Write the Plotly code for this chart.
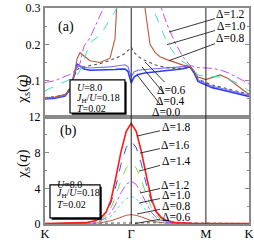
import plotly.graph_objects as go

# ---------------- data ----------------
tick_pos = [0.0, 1.3333, 2.4880, 3.1547]
tick_text = ["K", "Γ", "M", "K"]

# panel (a) path positions
qa = [0.000, 0.155, 0.309, 0.387, 0.448, 0.495, 0.541, 0.603, 0.696, 0.850,
      1.005, 1.082, 1.160, 1.237, 1.283, 1.333, 1.376, 1.438, 1.546, 1.624,
      1.701, 1.778, 1.887, 2.010, 2.134, 2.242, 2.304, 2.366, 2.488, 2.586,
      2.706, 2.830, 2.984, 3.155]

a_d00 = [0.050, 0.052, 0.058, 0.075, 0.115, 0.146, 0.140, 0.132, 0.129, 0.129,
         0.130, 0.131, 0.132, 0.132, 0.126, 0.094, 0.110, 0.117, 0.121, 0.123,
         0.125, 0.127, 0.128, 0.130, 0.133, 0.138, 0.122, 0.098, 0.088, 0.081,
         0.076, 0.071, 0.064, 0.057]
a_d04 = [0.052, 0.054, 0.060, 0.078, 0.112, 0.140, 0.141, 0.137, 0.135, 0.136,
         0.138, 0.140, 0.142, 0.144, 0.139, 0.110, 0.124, 0.129, 0.131, 0.132,
         0.133, 0.133, 0.134, 0.135, 0.137, 0.140, 0.128, 0.103, 0.092, 0.085,
         0.080, 0.075, 0.068, 0.060]
a_d06 = [0.054, 0.056, 0.062, 0.080, 0.110, 0.130, 0.136, 0.138, 0.141, 0.147,
         0.156, 0.161, 0.167, 0.175, 0.183, 0.192, 0.178, 0.167, 0.156, 0.149,
         0.144, 0.140, 0.136, 0.134, 0.134, 0.138, 0.127, 0.104, 0.094, 0.088,
         0.083, 0.078, 0.071, 0.063]
a_d08 = [0.053, 0.055, 0.062, 0.075, 0.110, 0.160, 0.177, 0.168, 0.155, 0.150,
         0.162, 0.215, 0.350, 0.600, 0.800, 1.050, 0.850, 0.550, 0.300, 0.200,
         0.178, 0.166, 0.158, 0.150, 0.143, 0.140, 0.125, 0.110, 0.103, 0.108,
         0.116, 0.106, 0.085, 0.062]
a_d10 = [0.072, 0.086, 0.097, 0.104, 0.110, 0.115, 0.128, 0.160, 0.205, 0.225,
         0.268, 0.290, 0.320, 0.600, 1.500, 3.100, 1.500, 0.700, 0.400, 0.320,
         0.285, 0.250, 0.205, 0.172, 0.152, 0.140, 0.128, 0.116, 0.112, 0.111,
         0.110, 0.106, 0.092, 0.072]
a_d12 = [0.095, 0.100, 0.112, 0.117, 0.125, 0.133, 0.148, 0.195, 0.218, 0.275,
         0.340, 0.420, 0.600, 1.200, 2.400, 4.800, 2.400, 1.200, 0.600, 0.450,
         0.370, 0.310, 0.255, 0.205, 0.165, 0.142, 0.138, 0.136, 0.135, 0.134,
         0.130, 0.122, 0.108, 0.092]

# panel (b) path positions
qb = [0.000, 0.402, 0.634, 0.789, 0.866, 0.944, 1.021, 1.098, 1.175, 1.256,
      1.333, 1.410, 1.488, 1.565, 1.643, 1.720, 1.797, 1.875, 2.030, 2.262,
      2.488, 3.155]

b_d06 = [0.05, 0.08, 0.13, 0.14, 0.145, 0.15, 0.155, 0.16, 0.17, 0.18, 0.19,
         0.17, 0.16, 0.15, 0.14, 0.14, 0.14, 0.14, 0.13, 0.14, 0.09, 0.06]
b_d08 = [0.02, 0.03, 0.06, 0.10, 0.15, 0.23, 0.37, 0.56, 0.78, 0.97, 1.05,
         0.97, 0.80, 0.58, 0.38, 0.24, 0.15, 0.10, 0.06, 0.04, 0.03, 0.02]
b_d10 = [0.02, 0.04, 0.08, 0.17, 0.28, 0.50, 0.88, 1.50, 2.25, 2.85, 3.10,
         2.85, 2.25, 1.55, 0.90, 0.50, 0.28, 0.17, 0.08, 0.04, 0.03, 0.02]
b_d12 = [0.03, 0.05, 0.09, 0.22, 0.38, 0.70, 1.30, 2.30, 3.50, 4.45, 4.80,
         4.45, 3.50, 2.35, 1.35, 0.72, 0.38, 0.22, 0.09, 0.05, 0.04, 0.03]
b_d14 = [0.03, 0.06, 0.11, 0.28, 0.50, 0.95, 1.80, 3.20, 4.90, 6.30, 6.80,
         6.30, 5.00, 3.30, 1.90, 1.00, 0.50, 0.28, 0.11, 0.06, 0.04, 0.03]
b_d16 = [0.03, 0.07, 0.13, 0.35, 0.65, 1.20, 2.40, 4.30, 6.70, 8.60, 9.30,
         8.60, 6.80, 4.50, 2.60, 1.30, 0.65, 0.35, 0.13, 0.07, 0.05, 0.03]
b_d18 = [0.04, 0.08, 0.15, 0.40, 0.75, 1.30, 2.70, 5.30, 8.10, 10.4, 11.3,
         10.4, 8.20, 5.50, 2.90, 1.40, 0.75, 0.40, 0.15, 0.08, 0.06, 0.04]

FONT = "Liberation Serif"

a_series = [("Δ=0.0", a_d00, "#2a3cff", "solid", 1.6),
            ("Δ=0.4", a_d04, "#7d70ff", "solid", 1.1),
            ("Δ=0.6", a_d06, "#555555", "dot", 1.1),
            ("Δ=0.8", a_d08, "#b85a3c", "solid", 1.1),
            ("Δ=1.0", a_d10, "#40e0c8", "dash", 1.0),
            ("Δ=1.2", a_d12, "#c050ff", "dashdot", 1.0)]
b_series = [("Δ=0.6", b_d06, "#555555", "dot", 1.0),
            ("Δ=0.8", b_d08, "#b85a3c", "solid", 1.0),
            ("Δ=1.0", b_d10, "#40e0c8", "dot", 1.0),
            ("Δ=1.2", b_d12, "#c050ff", "dashdot", 1.0),
            ("Δ=1.4", b_d14, "#70e040", "dash", 1.0),
            ("Δ=1.6", b_d16, "#3050ff", "dash", 1.0),
            ("Δ=1.8", b_d18, "#ff1a1a", "solid", 1.6)]

fig = go.Figure()
for name, ys, c, d, w in a_series:
    fig.add_trace(go.Scatter(x=qa, y=ys, mode="lines", name=name,
                             line=dict(color=c, dash=d, width=w),
                             xaxis="x", yaxis="y", showlegend=False))
for name, ys, c, d, w in b_series:
    fig.add_trace(go.Scatter(x=qb, y=ys, mode="lines", name=name,
                             line=dict(color=c, dash=d, width=w),
                             xaxis="x2", yaxis="y2", showlegend=False))

axcol = "#8a8a8a"
common_x = dict(range=[tick_pos[0], tick_pos[-1]], showline=True, linecolor=axcol,
                linewidth=2, mirror=True, showgrid=False, zeroline=False, automargin=False)
common_y = dict(showline=True, linecolor=axcol, linewidth=2, mirror="ticks",
                showgrid=False, zeroline=False, ticks="inside", ticklen=4, automargin=False,
                tickcolor=axcol, tickfont=dict(family=FONT, size=12, color="black"))

fig.update_layout(
    width=254, height=240,
    margin=dict(l=45, r=5, t=8, b=16, autoexpand=False),
    paper_bgcolor="white", plot_bgcolor="white",
    xaxis=dict(anchor="y", showticklabels=False, ticks="", **common_x),
    xaxis2=dict(anchor="y2", tickvals=tick_pos, ticktext=tick_text, ticks="",
                ticklabelstandoff=-3,
                tickfont=dict(family=FONT, size=12.5, color="black"), **common_x),
    yaxis=dict(domain=[0.495, 1.0], range=[0, 0.3], tickvals=[0.1, 0.2, 0.3],
               ticktext=["0.1", "0.2", "0.3"],
               minor=dict(dtick=0.05, ticks="inside", ticklen=2, tickcolor=axcol),
               **common_y),
    yaxis2=dict(domain=[0.0, 0.495], range=[0, 12], tickvals=[0, 4, 8, 12],
                minor=dict(dtick=2, ticks="inside", ticklen=2, tickcolor=axcol),
                **common_y),
)

shapes = []
for xv in (tick_pos[1], tick_pos[2]):
    shapes.append(dict(type="line", xref="x", yref="y domain", x0=xv, x1=xv, y0=0, y1=1,
                       line=dict(color="#222222", width=1)))
    shapes.append(dict(type="line", xref="x2", yref="y2 domain", x0=xv, x1=xv, y0=0, y1=1,
                       line=dict(color="#222222", width=1)))
# parameter boxes
for (x0, y0, x1, y1) in [(0.1225, 0.514, 0.392, 0.667), (0.0245, 0.028, 0.27, 0.181)]:
    shapes.append(dict(type="rect", xref="paper", yref="paper", x0=x0 + 0.008, y0=y0 - 0.008,
                       x1=x1 + 0.008, y1=y1 - 0.008, fillcolor="black", line=dict(width=0)))
    shapes.append(dict(type="rect", xref="paper", yref="paper", x0=x0, y0=y0, x1=x1, y1=y1,
                       fillcolor="white", line=dict(color="black", width=1.2)))
fig.update_layout(shapes=shapes)

ann = []
tf = dict(family=FONT, size=11.5, color="black")
# panel (a) labels with leader lines
a_labels = [("Δ=1.2", 1.917, 0.234, 62, -18),
            ("Δ=1.0", 1.887, 0.199, 64, -19),
            ("Δ=0.8", 1.917, 0.155, 62, -23),
            ("Δ=0.6", 1.546, 0.152, 27, 28),
            ("Δ=0.4", 1.500, 0.138, 28, 34),
            ("Δ=0.0", 1.423, 0.116, 29, 37)]
for t, xx, yy, ax, ay in a_labels:
    ann.append(dict(text=t, x=xx, y=yy, xref="x", yref="y", ax=ax, ay=ay, showarrow=True,
                    arrowhead=0, arrowwidth=0.9, arrowcolor="#222222", font=tf))
b_labels = [("Δ=1.8", 1.423, 9.87, 39, -9),
            ("Δ=1.6", 1.469, 7.96, 36, -8),
            ("Δ=1.4", 1.454, 5.94, 37, -10),
            ("Δ=1.2", 1.469, 3.48, 36, -8),
            ("Δ=1.0", 1.454, 2.35, 37, -8),
            ("Δ=0.8", 1.423, 1.12, 39, -8),
            ("Δ=0.6", 1.392, 0.05, 41, -7)]
for t, xx, yy, ax, ay in b_labels:
    ann.append(dict(text=t, x=xx, y=yy, xref="x2", yref="y2", ax=ax, ay=ay, showarrow=True,
                    arrowhead=0, arrowwidth=0.9, arrowcolor="#222222", font=tf))

# panel letters
ann.append(dict(text="(a)", x=0.054, y=0.958, xref="paper", yref="paper", showarrow=False,
                font=dict(family=FONT, size=14, color="black")))
ann.append(dict(text="(b)", x=0.064, y=0.431, xref="paper", yref="paper", showarrow=False,
                font=dict(family=FONT, size=14, color="black")))
# y titles
for yc in (0.7, 0.2):
    ann.append(dict(text="χ<sub>s</sub>(<i>q</i>)", x=-0.16, y=yc, xref="paper", yref="paper",
                    showarrow=False, textangle=-90,
                    font=dict(family=FONT, size=15, color="black")))
# parameter text
pf = dict(family=FONT, size=10, color="black")
for xl, ys in [(0.147, (0.630, 0.583, 0.537)), (0.049, (0.146, 0.100, 0.054))]:
    for txt, yy in zip(["<i>U</i>=8.0", "<i>J</i><sub>H</sub>/<i>U</i>=0.18", "<i>T</i>=0.02"], ys):
        ann.append(dict(text=txt, x=xl, y=yy, xref="paper", yref="paper", showarrow=False,
                        xanchor="left", font=pf))
fig.update_layout(annotations=ann)

fig.write_html("out.html", config={"displayModeBar": False},
               post_script="document.body.style.margin='0';document.body.style.padding='0';")
